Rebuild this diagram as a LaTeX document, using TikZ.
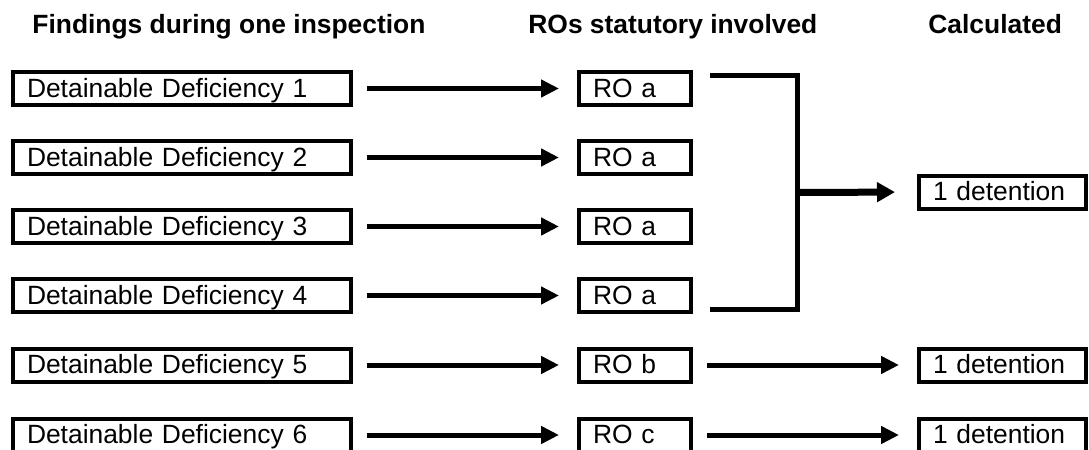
\documentclass[tikz,border=0pt]{standalone}
\usepackage{fontspec}
\setmainfont{Liberation Sans}
\usetikzlibrary{arrows.meta, positioning, calc}
\tikzset{
  box/.style={rectangle, draw=black, line width=2pt, anchor=west, align=left, inner xsep=7pt, inner ysep=1pt, minimum height=16.5pt, text height=11pt, text depth=2.5pt, font=\fontsize{13.2}{15}\selectfont},
  ddbox/.style={box, text width=155pt},
  robox/.style={box, text width=42pt},
  detbox/.style={box, text width=69.5pt},
  head/.style={anchor=base west, inner sep=0pt, font=\fontsize{13.2}{15}\selectfont\bfseries},
  arr/.style={-{Triangle[length=9pt, width=8.5pt]}, line width=2.5pt, shorten <=7pt, shorten >=9pt},
  bracket/.style={line width=2.5pt},
  bigarr/.style={-{Triangle[length=9pt, width=9.5pt]}, line width=3.5pt, shorten >=11pt},
}

\begin{document}
\begin{tikzpicture}[x=0.5pt, y=-0.5pt, node distance=112pt]
\clip (0,0) rectangle (1089,450);
\node[head] (hfind) at (32,33) {Findings during one inspection};
\node[head] (hro) at (528,33) {ROs statutory involved};
\node[head] (hcalc) at (928,33) {Calculated};
\node[ddbox] (dd1) at (11,88.5) {Detainable Deficiency 1};
\node[ddbox] (dd2) at (11,157.5) {Detainable Deficiency 2};
\node[ddbox] (dd3) at (11,226.5) {Detainable Deficiency 3};
\node[ddbox] (dd4) at (11,295.5) {Detainable Deficiency 4};
\node[ddbox] (dd5) at (11,365) {Detainable Deficiency 5};
\node[ddbox] (dd6) at (11,435) {Detainable Deficiency 6};
\node[robox, right=of dd1] (ro1) {RO a};
\node[robox, right=of dd2] (ro2) {RO a};
\node[robox, right=of dd3] (ro3) {RO a};
\node[robox, right=of dd4] (ro4) {RO a};
\node[robox, right=of dd5] (ro5) {RO b};
\node[robox, right=of dd6] (ro6) {RO c};
\coordinate (mid) at ($(ro2.east)!0.5!(ro3.east)$);
\node[detbox, right=of mid] (det1) {1 detention};
\node[detbox, right=of ro5] (det5) {1 detention};
\node[detbox, right=of ro6] (det6) {1 detention};
\coordinate (brtop) at (710,75);
\coordinate (brbot) at (710,309);
\coordinate (join) at (797.5,192.5);
\draw[arr] (dd1) -- (ro1);
\draw[arr] (dd2) -- (ro2);
\draw[arr] (dd3) -- (ro3);
\draw[arr] (dd4) -- (ro4);
\draw[arr] (dd5) -- (ro5);
\draw[arr] (dd6) -- (ro6);
\draw[bracket] (brtop) -| (join) |- (brbot);
\draw[bigarr] (join) -- (det1.west);
\draw[arr] (ro5) -- (det5);
\draw[arr] (ro6) -- (det6);
\end{tikzpicture}
\end{document}
